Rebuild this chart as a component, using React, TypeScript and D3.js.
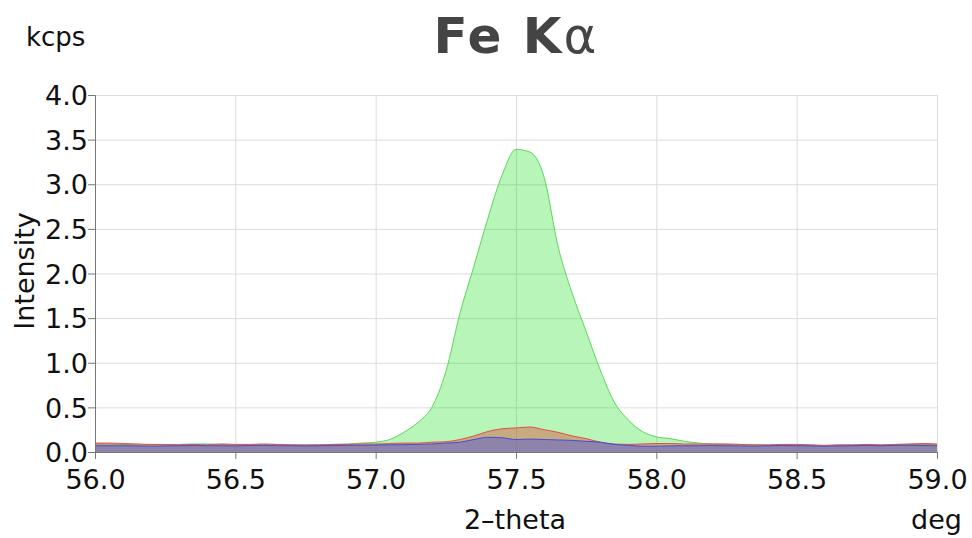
import React, { useEffect, useRef } from "react";
import * as d3 from "d3";

// 2-theta positions, 0.05 deg step
const theta = d3.range(0, 61).map((i) => +(56 + i * 0.05).toFixed(2));

const greenSeries = [
  0.09, 0.09, 0.085, 0.08, 0.08, 0.08, 0.085, 0.09, 0.09, 0.085,
  0.08, 0.08, 0.08, 0.085, 0.08, 0.075, 0.08, 0.085, 0.09, 0.1,
  0.11, 0.14, 0.22, 0.33, 0.5, 0.9, 1.55, 2.08, 2.62, 3.1,
  3.39, 3.36, 3.08, 2.3, 1.78, 1.35, 0.92, 0.56, 0.36, 0.23,
  0.17, 0.15, 0.12, 0.1, 0.09, 0.085, 0.08, 0.08, 0.075, 0.08,
  0.08, 0.075, 0.07, 0.075, 0.075, 0.08, 0.075, 0.08, 0.085, 0.085,
  0.08,
];

const redSeries = [
  0.1, 0.1, 0.095, 0.09, 0.085, 0.085, 0.08, 0.085, 0.08, 0.09,
  0.085, 0.085, 0.09, 0.085, 0.08, 0.08, 0.08, 0.085, 0.085, 0.09,
  0.09, 0.095, 0.1, 0.1, 0.11, 0.115, 0.14, 0.18, 0.23, 0.26,
  0.27, 0.28, 0.25, 0.22, 0.18, 0.15, 0.11, 0.09, 0.085, 0.09,
  0.095, 0.095, 0.09, 0.09, 0.09, 0.09, 0.085, 0.08, 0.08, 0.085,
  0.085, 0.08, 0.075, 0.08, 0.08, 0.085, 0.08, 0.085, 0.09, 0.095,
  0.09,
];

const blueSeries = [
  0.07, 0.07, 0.07, 0.068, 0.065, 0.068, 0.07, 0.072, 0.07, 0.07,
  0.068, 0.072, 0.075, 0.07, 0.07, 0.068, 0.07, 0.072, 0.075, 0.075,
  0.078, 0.08, 0.082, 0.085, 0.09, 0.1, 0.11, 0.14, 0.165, 0.16,
  0.14, 0.145, 0.14, 0.135, 0.13, 0.12, 0.11, 0.085, 0.075, 0.065,
  0.065, 0.068, 0.07, 0.07, 0.072, 0.07, 0.068, 0.065, 0.07, 0.072,
  0.07, 0.068, 0.065, 0.068, 0.07, 0.072, 0.07, 0.075, 0.075, 0.072,
  0.07,
];

const xTicks = [56.0, 56.5, 57.0, 57.5, 58.0, 58.5, 59.0];
const yTicks = [0, 0.5, 1.0, 1.5, 2.0, 2.5, 3.0, 3.5, 4.0];

const series = [
  { name: "green", values: greenSeries, fill: "rgba(0,220,0,0.28)", stroke: "#5cd65c" },
  { name: "red", values: redSeries, fill: "rgba(220,60,45,0.4)", stroke: "#e0504a" },
  { name: "blue", values: blueSeries, fill: "rgba(86,94,210,0.5)", stroke: "#4a4ad8" },
];

const W = 972;
const H = 538;
const left = 95;
const right = 937;
const top = 95;
const bottom = 452;
const font = "'DejaVu Sans', sans-serif";

export default function App() {
  const ref = useRef<SVGSVGElement>(null);

  useEffect(() => {
    const svg = d3.select(ref.current);
    svg.selectAll("*").remove();

    const x = d3.scaleLinear().domain([56, 59]).range([left, right]);
    const y = d3.scaleLinear().domain([0, 4]).range([bottom, top]);

    svg.append("rect").attr("width", W).attr("height", H).attr("fill", "#fff");

    // grid
    const grid = svg.append("g").attr("stroke", "#dcdcdc").attr("stroke-width", 1);
    grid
      .selectAll("line.v")
      .data(xTicks)
      .join("line")
      .attr("x1", (d) => x(d) + 0.5)
      .attr("x2", (d) => x(d) + 0.5)
      .attr("y1", top)
      .attr("y2", bottom);
    grid
      .selectAll("line.h")
      .data(yTicks)
      .join("line")
      .attr("class", "h")
      .attr("x1", left)
      .attr("x2", right)
      .attr("y1", (d) => y(d) + 0.5)
      .attr("y2", (d) => y(d) + 0.5);

    // areas
    series.forEach((s) => {
      const pts = theta.map((t, i) => [t, s.values[i]] as [number, number]);
      const area = d3
        .area<[number, number]>()
        .curve(d3.curveMonotoneX)
        .x((d) => x(d[0]))
        .y0(y(0))
        .y1((d) => y(d[1]));
      const line = d3
        .line<[number, number]>()
        .curve(d3.curveMonotoneX)
        .x((d) => x(d[0]))
        .y((d) => y(d[1]));
      svg.append("path").attr("d", area(pts)).attr("fill", s.fill);
      svg
        .append("path")
        .attr("d", line(pts))
        .attr("fill", "none")
        .attr("stroke", s.stroke)
        .attr("stroke-width", 1);
    });

    // axes
    const yAxis = svg
      .append("g")
      .attr("transform", `translate(${left},0)`)
      .call(d3.axisLeft(y).tickValues(yTicks).tickSize(7).tickFormat(d3.format(".1f")));
    const xAxis = svg
      .append("g")
      .attr("transform", `translate(0,${bottom})`)
      .call(d3.axisBottom(x).tickValues(xTicks).tickSize(7).tickFormat(d3.format(".1f")));
    [yAxis, xAxis].forEach((g) => {
      g.select(".domain").attr("stroke", "#777");
      g.selectAll(".tick line").attr("stroke", "#777");
      g.selectAll(".tick text")
        .attr("fill", "#111")
        .style("font-family", font)
        .style("font-size", "27px");
    });
    yAxis.selectAll(".tick text").attr("x", -7).attr("dy", "0.36em");
    xAxis.selectAll(".tick text").attr("y", 11).attr("dy", "0.95em");

    // labels
    svg
      .append("text")
      .attr("x", 516)
      .attr("y", 53)
      .attr("text-anchor", "middle")
      .attr("fill", "#444")
      .style("font-family", font)
      .style("font-size", "50px")
      .style("font-weight", "bold")
      .style("letter-spacing", "2px")
      .text("Fe K")
      .append("tspan")
      .style("font-weight", "normal")
      .text("α");
    svg
      .append("text")
      .attr("x", 26)
      .attr("y", 46)
      .attr("fill", "#111")
      .style("font-family", font)
      .style("font-size", "26px")
      .text("kcps");
    svg
      .append("text")
      .attr("transform", `translate(34,271) rotate(-90)`)
      .attr("text-anchor", "middle")
      .attr("fill", "#111")
      .style("font-family", font)
      .style("font-size", "27px")
      .text("Intensity");
    svg
      .append("text")
      .attr("x", 515)
      .attr("y", 529)
      .attr("text-anchor", "middle")
      .attr("fill", "#111")
      .style("font-family", font)
      .style("font-size", "27px")
      .text("2\u2013theta");
    svg
      .append("text")
      .attr("x", 962)
      .attr("y", 529)
      .attr("text-anchor", "end")
      .attr("fill", "#111")
      .style("font-family", font)
      .style("font-size", "27px")
      .text("deg");
  }, []);

  return (
    <svg
      ref={ref}
      width={W}
      height={H}
      style={{ position: "absolute", left: 0, top: 0, display: "block" }}
    />
  );
}
